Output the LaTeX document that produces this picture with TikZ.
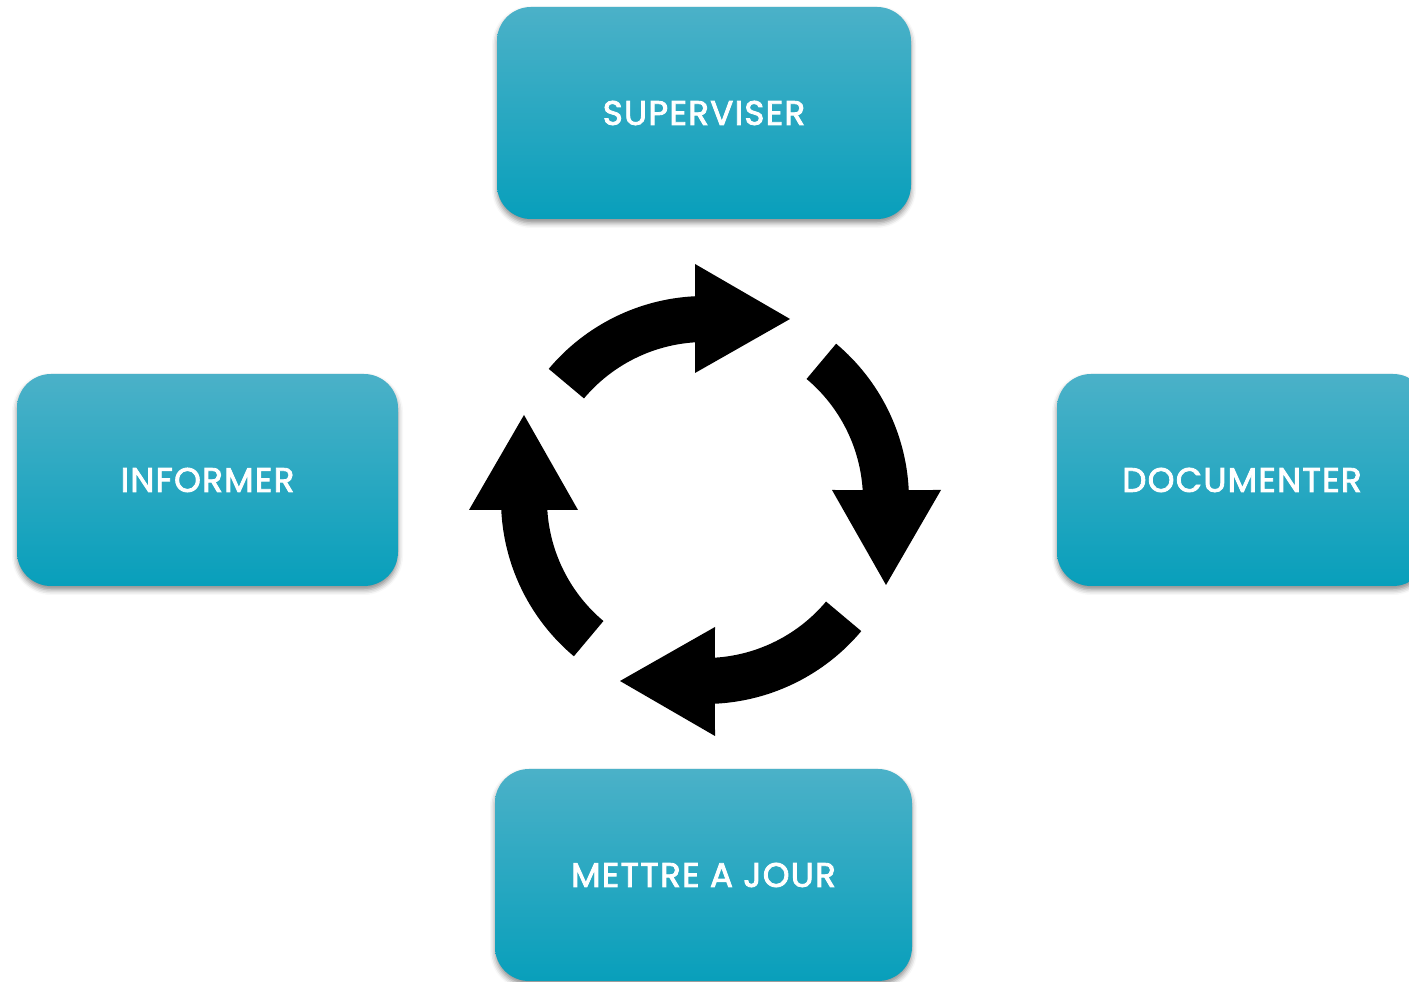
\documentclass[tikz,border=0pt]{standalone}
\usepackage{fontspec}
\newfontfamily\boxfont{Poppins}[FakeBold=2.5, LetterSpace=4]
\usepackage{xcolor}
\definecolor{tealtop}{RGB}{75, 177, 200}
\definecolor{tealmid}{RGB}{22, 172, 199}
\definecolor{tealbot}{RGB}{8, 159, 187}
\usepackage{tikz}
\usetikzlibrary{shadows.blur}
\tikzset{
  task/.style = {
    rounded corners=34pt,
    minimum height=212pt,
    inner sep=6pt,
    text=white,
    font=\boxfont\fontsize{34}{40}\selectfont,
    top color=tealtop,
    middle color=tealmid,
    bottom color=tealbot,
    blur shadow={shadow xshift=0pt,
      shadow yshift=-4pt,
      shadow blur radius=5pt,
      shadow opacity=45,
    }
  },
  cyclearrow/.style = {
    fill=black
  },
}

\begin{document}
\begin{tikzpicture}[x=1pt, y=1pt]
    \useasboundingbox (0,0) rectangle (1409,982);
    \coordinate (hub) at (705,482);
    \node[task, minimum width=414pt] (sup) at (704,869) {SUPERVISER};
    \node[task, minimum width=381pt] (inf) at (207.5,502) {INFORMER};
    \node[task, minimum width=370pt] (doc) at (1242,502) {DOCUMENTER};
    \node[task, minimum width=417pt] (maj) at (703.5,107) {METTRE A JOUR};
    % four bent arrows turning clockwise round the hub
    \foreach \ang in {0,-90,-180,-270}
      \fill[cyclearrow, shift={(hub)}, rotate=\ang]
        (140:204pt) arc[start angle=140, end angle=92.8, radius=204pt]
        -- (-10,236) -- (85,181) -- (-10,127)
        -- (93.6:158pt) arc[start angle=93.6, end angle=140, radius=158pt]
        -- cycle;
  \end{tikzpicture}
\end{document}
